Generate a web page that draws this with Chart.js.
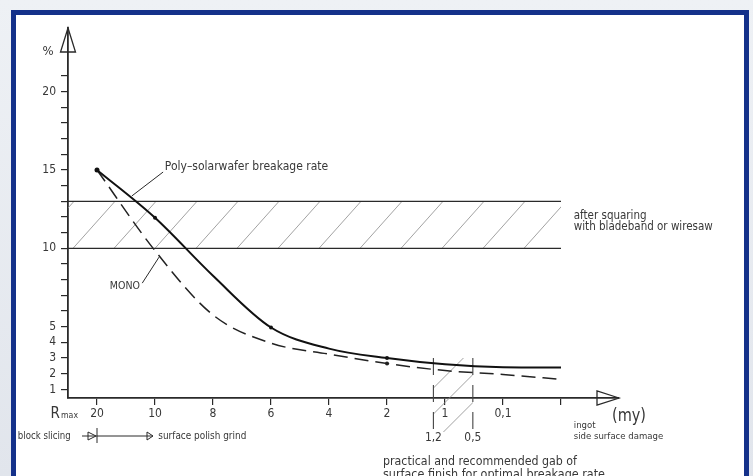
<!DOCTYPE html>
<html>
<head>
<meta charset="utf-8">
<script src="https://cdn.jsdelivr.net/npm/chart.js@4/dist/chart.umd.min.js"></script>
<style>
  html, body { margin: 0; padding: 0; }
  body {
    width: 753px; height: 476px; overflow: hidden; position: relative;
    background: linear-gradient(180deg, #eef1f5 0%, #e1e5ec 100%);
  }
  #frame {
    position: absolute; left: 11px; top: 10px; width: 738px; height: 520px;
    box-sizing: border-box; border: 5.5px solid #14318a; background: #fff;
  }
  #chart-breakage { position: absolute; left: 0; top: 0; }
</style>
</head>
<body>
<div id="frame"></div>
<canvas id="chart-breakage" width="753" height="476"></canvas>
<script>
// R max classes along the x axis (left = rough, right = fine)
const xLabels = ['20', '10', '8', '6', '4', '2', '1', '0,1', ''];
const yTicks = [1, 2, 3, 4, 5, 6, 7, 8, 9, 10, 11, 12, 13, 14, 15, 16, 17, 18, 19, 20, 21];
const yLabeled = [1, 2, 3, 4, 5, 10, 15, 20];

// breakage rate in %
const polyRate = [15, 11.95, 8.25, 4.95, 3.6, 3.0, 2.6, 2.42, 2.4];
const monoRate = [15, 9.85, 5.75, 3.95, 3.25, 2.65, 2.2, 1.95, 1.64];

const squaringBand = [10, 13];      // % range after squaring
const bandEnd = 8;                  // band reaches the "ingot" tick
const gapRange = [5.8, 6.48];       // 1,2 ... 0,5 my
const gapLabels = ['1,2', '0,5'];
const gapTop = 3.0;

const FONT = "'DejaVu Sans Condensed', 'Liberation Sans Narrow', 'DejaVu Sans', sans-serif";
const INK = '#2a2a2a';
const TXT = '#383838';

let chart;

function texto(ctx, s, x, y, size, maxW, align) {
    ctx.font = size + 'px ' + FONT;
    ctx.textAlign = align || 'left';
    ctx.textBaseline = 'middle';
    ctx.fillStyle = TXT;
    if (maxW) ctx.fillText(s, x, y, maxW); else ctx.fillText(s, x, y);
}

function linha(ctx, x1, y1, x2, y2) {
    ctx.beginPath();
    ctx.moveTo(x1, y1);
    ctx.lineTo(x2, y2);
    ctx.stroke();
}

function seta(ctx, tipX, tipY, len, half, dir) {
    // open triangle arrow head, dir 'r' or 'u'
    ctx.beginPath();
    if (dir === 'u') {
        ctx.moveTo(tipX, tipY);
        ctx.lineTo(tipX - half, tipY + len);
        ctx.lineTo(tipX + half, tipY + len);
    } else {
        ctx.moveTo(tipX, tipY);
        ctx.lineTo(tipX - len, tipY - half);
        ctx.lineTo(tipX - len, tipY + half);
    }
    ctx.closePath();
    ctx.stroke();
}

const desenhos = {
    id: 'desenhos',
    beforeDatasetsDraw(c) {
        const ctx = c.ctx, a = c.chartArea;
        const px = v => c.scales.x.getPixelForValue(v);
        const py = v => c.scales.y.getPixelForValue(v);

        // hatched band
        const x0 = a.left, x1 = px(bandEnd);
        const yTop = py(squaringBand[1]), yBot = py(squaringBand[0]);
        ctx.save();
        ctx.beginPath();
        ctx.rect(x0, yTop, x1 - x0, yBot - yTop);
        ctx.clip();
        ctx.strokeStyle = '#8a8a8a';
        ctx.lineWidth = 0.8;
        for (let b = x0 + 5 - 41; b < x1; b += 41) {
            linha(ctx, b, yBot, b + 42, yTop);
        }
        ctx.restore();
        ctx.save();
        ctx.strokeStyle = INK;
        ctx.lineWidth = 1.2;
        linha(ctx, x0, yTop, x1, yTop);
        linha(ctx, x0, yBot, x1, yBot);
        ctx.restore();

        // recommended gap
        const g0 = px(gapRange[0]), g1 = px(gapRange[1]);
        const gT = py(gapTop), gB = a.bottom + 34;
        ctx.save();
        ctx.beginPath();
        ctx.rect(g0, gT, g1 - g0, gB - gT);
        ctx.clip();
        ctx.strokeStyle = '#8a8a8a';
        ctx.lineWidth = 0.8;
        [30, 56, 84].forEach(off => {
            linha(ctx, g0 - 60, gT + off + 60, g0 + off + 60, gT - 60);
        });
        ctx.restore();
        ctx.save();
        ctx.strokeStyle = '#444';
        ctx.lineWidth = 1.1;
        ctx.setLineDash([17, 10]);
        linha(ctx, g0, gT, g0, gB);
        linha(ctx, g1, gT, g1, gB);
        ctx.restore();
    },
    afterDraw(c) {
        const ctx = c.ctx, a = c.chartArea;
        const px = v => c.scales.x.getPixelForValue(v);
        const py = v => c.scales.y.getPixelForValue(v);
        ctx.save();
        ctx.strokeStyle = INK;
        ctx.lineWidth = 1.3;

        // axis arrows
        seta(ctx, a.left, a.top, 24, 7.5, 'u');
        seta(ctx, a.right, a.bottom, 22, 7, 'r');
        texto(ctx, '%', a.left - 20, a.top + 24, 13, 0, 'center');

        // leaders
        ctx.lineWidth = 1;
        linha(ctx, px(1.14), py(14.87), px(0.6), py(13.34));
        linha(ctx, px(0.78), py(7.78), px(1.07), py(9.44));
        texto(ctx, 'Poly\u2013solarwafer breakage rate', px(1.17), py(15.17), 12, 166);
        texto(ctx, 'MONO', px(0.48), py(7.55), 10.5, 31, 'center');

        texto(ctx, 'after squaring', px(8.22), py(12.06), 11.5, 76);
        texto(ctx, 'with bladeband or wiresaw', px(8.22), py(11.34), 11.5, 143);

        // below the axis
        const yRow = a.bottom + 38;
        ctx.font = '15px ' + FONT;
        ctx.textAlign = 'left';
        ctx.textBaseline = 'alphabetic';
        ctx.fillStyle = TXT;
        ctx.fillText('R', 50.5, a.bottom + 19.5);
        ctx.font = '9px ' + FONT;
        ctx.fillText('max', 61, a.bottom + 19.5, 17);

        texto(ctx, '(my)', a.right + 10, a.bottom + 19, 17, 34, 'center');
        texto(ctx, 'ingot', px(8.22), a.bottom + 28, 9.5, 22);
        texto(ctx, 'side surface damage', px(8.22), a.bottom + 38.7, 9.5, 92);

        gapLabels.forEach((s, i) => {
            texto(ctx, s, px(gapRange[i]), a.bottom + 39.7, 12, 17, 'center');
        });

        const x20 = px(0);
        texto(ctx, 'block slicing', 17.8, yRow, 10.5, 53);
        ctx.lineWidth = 1;
        linha(ctx, 82, yRow, x20, yRow);
        seta(ctx, x20 - 1, yRow, 8, 4, 'r');
        linha(ctx, x20, yRow - 8, x20, yRow + 7);
        linha(ctx, x20, yRow, 153, yRow);
        seta(ctx, 153, yRow, 6, 4, 'r');
        texto(ctx, 'surface polish grind', 158.3, yRow, 10.5, 88);

        texto(ctx, 'practical and recommended gab of', 383, 462, 12.5, 194);
        texto(ctx, 'surface finish for optimal breakage rate', 383, 475, 12.5, 222);
        ctx.restore();
    }
};

function criarChart() {
    const ctx = document.getElementById('chart-breakage').getContext('2d');
    const xs = xLabels.map((_, i) => i);
    chart = new Chart(ctx, {
        type: 'line',
        data: {
            datasets: [{
                label: 'Poly',
                data: xs.map(i => ({x: i, y: polyRate[i]})),
                borderColor: '#111',
                borderWidth: 2,
                cubicInterpolationMode: 'monotone',
                pointRadius: [2.5, 2, 0, 2, 0, 2, 0, 0, 0],
                pointBackgroundColor: '#111',
                pointBorderWidth: 0
            }, {
                label: 'MONO',
                data: xs.map(i => ({x: i, y: monoRate[i]})),
                borderColor: '#222',
                borderWidth: 1.5,
                borderDash: [14, 7],
                cubicInterpolationMode: 'monotone',
                pointRadius: [0, 0, 0, 0, 0, 2, 0, 0, 0],
                pointBackgroundColor: '#222',
                pointBorderWidth: 0
            }]
        },
        options: {
            responsive: false,
            animation: false,
            layout: { padding: { top: 28, right: 134, left: 0, bottom: 0 } },
            plugins: {
                legend: { display: false },
                tooltip: { enabled: false }
            },
            scales: {
                x: {
                    type: 'linear',
                    min: -0.5,
                    max: 9,
                    afterBuildTicks: s => { s.ticks = xs.map(v => ({value: v})); },
                    afterFit: s => { s.height = 78; },
                    grid: { drawOnChartArea: false, drawTicks: true, tickLength: 7, color: INK, lineWidth: 1.2 },
                    border: { display: true, color: INK, width: 1.8 },
                    ticks: {
                        autoSkip: false,
                        maxRotation: 0,
                        padding: 2,
                        color: TXT,
                        font: { family: FONT, size: 12 },
                        callback: v => xLabels[v] !== undefined ? xLabels[v] : ''
                    }
                },
                y: {
                    type: 'linear',
                    min: 0.45,
                    max: 24.06,
                    afterBuildTicks: s => { s.ticks = yTicks.map(v => ({value: v})); },
                    afterFit: s => { s.width = 68; },
                    grid: { drawOnChartArea: false, drawTicks: true, tickLength: 7, color: INK, lineWidth: 1.2 },
                    border: { display: true, color: INK, width: 1.8 },
                    ticks: {
                        autoSkip: false,
                        padding: 5,
                        color: TXT,
                        font: { family: FONT, size: 12 },
                        callback: v => yLabeled.includes(v) ? String(v) : ''
                    }
                }
            }
        },
        plugins: [desenhos]
    });
}

window.onload = function() {
    criarChart();
};
</script>
</body>
</html>
